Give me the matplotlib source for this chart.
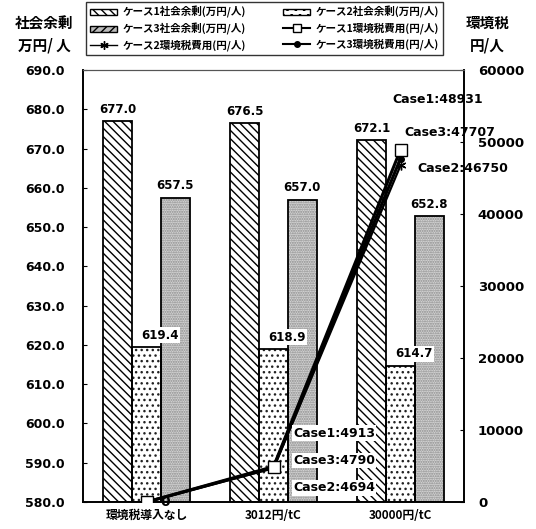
import matplotlib
matplotlib.use("Agg")
import matplotlib.pyplot as plt
import numpy as np
from matplotlib.patches import Patch
from matplotlib.lines import Line2D
from matplotlib.transforms import offset_copy

plt.rcParams['font.family'] = ['DejaVu Sans', 'Noto Sans CJK JP']
plt.rcParams['hatch.linewidth'] = 1.0

categories = ['環境税導入なし', '3012円/tC', '30000円/tC']
surplus_case1 = [677.0, 676.5, 672.1]
surplus_case2 = [619.4, 618.9, 614.7]
surplus_case3 = [657.5, 657.0, 652.8]
tax_case1 = [0, 4913, 48931]
tax_case2 = [0, 4694, 46750]
tax_case3 = [0, 4790, 47707]
left_ticks = [580.0, 590.0, 600.0, 610.0, 620.0, 630.0, 640.0, 650.0, 660.0, 670.0, 680.0, 690.0]
right_ticks = [0, 10000, 20000, 30000, 40000, 50000, 60000]

jp = ['Noto Sans CJK JP', 'DejaVu Sans']

fig = plt.figure(figsize=(5.36, 5.29), dpi=100)
ax = fig.add_axes([0.1549, 0.051, 0.7108, 0.8166])
ax2 = ax.twinx()

x = np.arange(len(categories))
w = 0.226

def hatched_bars(xpos, vals, face, hatch, hcolor):
    ax.bar(xpos, np.array(vals) - 580, w, bottom=580, color=face,
           hatch=hatch, edgecolor=hcolor, linewidth=0, zorder=2)
    ax.bar(xpos, np.array(vals) - 580, w, bottom=580, fill=False,
           edgecolor='black', linewidth=1.3, zorder=3)

hatched_bars(x - w, surplus_case1, 'white', '\\\\\\\\', 'black')
hatched_bars(x, surplus_case2, 'white', '...', '#222222')
hatched_bars(x + w, surplus_case3, '#d4d4d4', '.......', '#8a8a8a')

lab_kw = dict(ha='center', va='center', fontsize=8.5, fontweight='bold', color='black', zorder=6,
              bbox=dict(facecolor='white', edgecolor='none', pad=1.0))
for i in range(3):
    t1 = offset_copy(ax.transData, fig=fig, x=0, y=12, units='dots')
    ax.text(x[i] - w, surplus_case1[i], f'{surplus_case1[i]:.1f}', transform=t1, **lab_kw)
    ax.text(x[i] + w, surplus_case3[i], f'{surplus_case3[i]:.1f}', transform=t1, **lab_kw)
    t2 = offset_copy(ax.transData, fig=fig, x=13, y=12, units='dots')
    ax.text(x[i], surplus_case2[i], f'{surplus_case2[i]:.1f}', transform=t2, **lab_kw)

ax.set_ylim(580, 690)
ax.set_xlim(-0.5, 2.5)
ax.set_yticks(left_ticks)
ax.set_yticklabels([f'{v:.1f}' for v in left_ticks], fontsize=9, fontweight='bold')
ax.tick_params(axis='y', direction='in', length=3, pad=13)
ax.set_xticks(x)
ax.set_xticklabels(categories, family=jp, fontsize=8.5, fontweight='bold')
ax.tick_params(axis='x', length=0, pad=5)

ax2.set_ylim(0, 60000)
ax2.set_yticks(right_ticks)
ax2.set_yticklabels([str(v) for v in right_ticks], fontsize=9.5, fontweight='bold')
ax2.tick_params(axis='y', direction='in', length=3, pad=10)

for a in (ax, ax2):
    a.spines['top'].set_linestyle((0, (1, 1)))
    a.spines['top'].set_linewidth(0.8)
    a.spines['top'].set_color('#555555')
    for s in ('left', 'right', 'bottom'):
        a.spines[s].set_linewidth(1.2)

ax.set_zorder(1)
ax2.set_zorder(2)
ax2.patch.set_visible(False)

ax2.plot(x, tax_case2, color='black', lw=1.6, marker=(6, 2, 0), ms=7, mec='black', zorder=4)
ax2.plot(x, tax_case3, color='black', lw=2.2, marker='o', ms=4, mfc='black', mec='black', zorder=4)
ax2.plot(x, tax_case1, color='black', lw=2.2, marker='s', ms=8, mfc='white', mec='black', mew=1.0, zorder=5)

ann_kw = dict(fontsize=9, fontweight='bold', color='black', zorder=7, va='center', ha='left',
              bbox=dict(facecolor='white', edgecolor='none', pad=1.0))
ax2.annotate(f'{tax_case1[0]}', xy=(x[0], tax_case1[0]), xytext=(10, 0),
             textcoords='offset points', fontsize=10, fontweight='bold', va='center', zorder=7)
ax2.annotate(f'Case1:{tax_case1[1]}', xy=(x[1], tax_case1[1]), xytext=(14, 24),
             textcoords='offset points', **ann_kw)
ax2.annotate(f'Case3:{tax_case3[1]}', xy=(x[1], tax_case3[1]), xytext=(14, 5),
             textcoords='offset points', **ann_kw)
ax2.annotate(f'Case2:{tax_case2[1]}', xy=(x[1], tax_case2[1]), xytext=(14, -14),
             textcoords='offset points', **ann_kw)
ax2.annotate(f'Case1:{tax_case1[2]}', xy=(x[2], tax_case1[2]), xytext=(-6, 36),
             textcoords='offset points', **dict(ann_kw, bbox=None))
ax2.annotate(f'Case3:{tax_case3[2]}', xy=(x[2], tax_case3[2]), xytext=(3, 19),
             textcoords='offset points', **dict(ann_kw, bbox=None))
ax2.annotate(f'Case2:{tax_case2[2]}', xy=(x[2], tax_case2[2]), xytext=(12, -2),
             textcoords='offset points', **dict(ann_kw, bbox=None))

# axis titles
fig.text(0.083, 0.935, '社会余剰\n万円/ 人', family=jp, fontsize=10.5, fontweight='bold',
         ha='center', va='center', linespacing=1.5)
fig.text(0.910, 0.935, '環境税\n円/人', family=jp, fontsize=10.5, fontweight='bold',
         ha='center', va='center', linespacing=1.5)

handles = [
    Patch(facecolor='white', edgecolor='black', hatch='\\\\\\\\'),
    Patch(facecolor='#bbbbbb', edgecolor='black', hatch='////'),
    Line2D([], [], color='black', lw=1, marker=(6, 2, 0), ms=6),
    Patch(facecolor='white', edgecolor='black', hatch='oo'),
    Line2D([], [], color='black', lw=1.5, marker='s', ms=6, mfc='white'),
    Line2D([], [], color='black', lw=1.5, marker='o', ms=4),
]
labels = ['ケース1社会余剰(万円/人)', 'ケース3社会余剰(万円/人)', 'ケース2環境税費用(円/人)',
          'ケース2社会余剰(万円/人)', 'ケース1環境税費用(円/人)', 'ケース3環境税費用(円/人)']
leg = fig.legend(handles, labels, ncol=2, loc='upper left',
                 bbox_to_anchor=(0.160, 0.898, 0.666, 0.098), mode='expand',
                 prop={'family': jp, 'size': 7.6, 'weight': 'bold'},
                 frameon=True, fancybox=False, edgecolor='black', borderpad=0.4,
                 labelspacing=0.4, handlelength=2.6, handleheight=0.5,
                 handletextpad=0.45, columnspacing=1.0, borderaxespad=0)
leg.get_frame().set_linewidth(1.0)

fig.savefig('out.png', dpi=100)
